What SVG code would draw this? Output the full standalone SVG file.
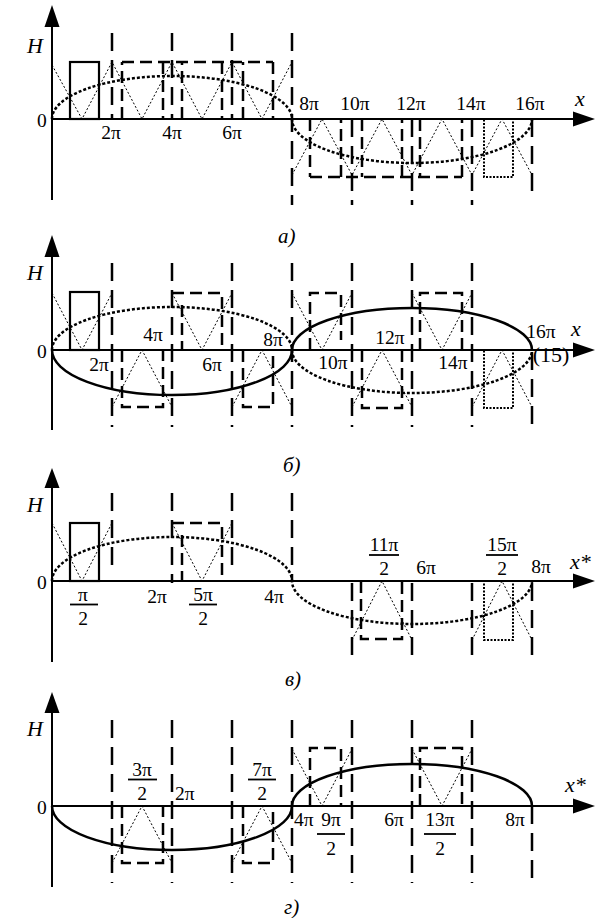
<svg xmlns="http://www.w3.org/2000/svg" width="600" height="918" viewBox="0 0 600 918">
<style>
.ax{stroke:#000;stroke-width:2;fill:none}
.ah{fill:#000}
.ld{stroke:#000;stroke-width:2.5;stroke-dasharray:18 9;fill:none}
.rd{stroke:#000;stroke-width:2.5;stroke-dasharray:12 6;fill:none}
.sr{stroke:#000;stroke-width:2.2;fill:none}
.sc{stroke:#000;stroke-width:2.5;fill:none}
.tri{stroke:#000;stroke-width:1;stroke-dasharray:2 2;fill:none}
.dc{stroke:#000;stroke-width:2.5;stroke-dasharray:3 2;fill:none}
.dr{stroke:#000;stroke-width:2;stroke-dasharray:2 1.5;fill:none}
.fl{stroke:#000;stroke-width:1.8}
text{font-family:"Liberation Serif","DejaVu Serif",serif;font-size:19.5px;fill:#000}
.m{text-anchor:middle}
.it{font-style:italic;font-size:22px}
.lb{font-style:italic;font-size:21px}
</style>
<rect width="600" height="918" fill="#fff"/>

<g id="panel-a">
  <path class="ax" d="M52 27V200M52 119H575"/>
  <polygon class="ah" points="52,5 44.5,27 59.5,27"/>
  <polygon class="ah" points="595,119 573,111.5 573,126.5"/>
  <path class="ld" d="M112 33V119M172 33V119M232 33V119M292 33V205M352 119V205M412 119V205M472 119V205M532 119V195"/>
  <rect class="sr" x="70" y="62" width="29" height="57"/>
  <path class="rd" d="M122 62H273M122 119V62M163 62V119M182 119V62M222 62V119M243 119V62M273 62V119"/>
  <path class="rd" d="M310 177H462M310 119V177M341 177V119M362 119V177M402 177V119M420 119V177M462 177V119"/>
  <rect class="dr" x="484" y="119" width="29" height="58"/>
  <polyline class="tri" points="52,65 82,119 112,62 142,119 172,62 202,119 232,62 262,119 292,62"/>
  <polyline class="tri" points="292,175 322,119 352,175 382,119 412,175 442,119 472,175 502,119 532,175"/>
  <path class="dc" d="M52 119A120 43 0 0 1 292 119A120 44 0 0 0 532 119"/>
  <text class="it" x="27" y="53">H</text>
  <text x="37" y="127">0</text>
  <text class="m" x="111" y="139">2π</text>
  <text class="m" x="172" y="139">4π</text>
  <text class="m" x="232" y="139">6π</text>
  <text class="m" x="309" y="110">8π</text>
  <text class="m" x="355" y="110">10π</text>
  <text class="m" x="411" y="110">12π</text>
  <text class="m" x="471" y="110">14π</text>
  <text class="m" x="530" y="110">16π</text>
  <text class="it" x="575" y="106">x</text>
  <text class="lb" x="278" y="243">а)</text>
</g>

<g id="panel-b">
  <path class="ax" d="M52 257V430M52 350H575"/>
  <polygon class="ah" points="52,235 44.5,257 59.5,257"/>
  <polygon class="ah" points="595,350 573,342.5 573,357.5"/>
  <path class="ld" d="M112 263V427M172 263V427M232 263V427M292 263V427M352 263V427M412 263V427M472 263V427M532 352V427"/>
  <rect class="sr" x="70" y="292" width="29" height="58"/>
  <path class="rd" d="M172 293H222V350M182 305V350M310 350V293H341V340M420 350V293H462V350"/>
  <path class="rd" d="M122 350V407H163V350M243 350V407H273V350M362 350V408H402V350"/>
  <rect class="dr" x="484" y="350" width="29" height="58"/>
  <polyline class="tri" points="52,293 82,350 112,293"/>
  <polyline class="tri" points="112,407 142,350 172,407"/>
  <polyline class="tri" points="172,293 202,350 232,293"/>
  <polyline class="tri" points="232,407 262,350 292,407"/>
  <polyline class="tri" points="292,293 322,350 352,293"/>
  <polyline class="tri" points="352,407 382,350 412,407"/>
  <polyline class="tri" points="412,293 442,350 472,293"/>
  <polyline class="tri" points="472,407 502,350 532,407"/>
  <path class="dc" d="M52 350A120 43 0 0 1 292 350M292 350A120 43 0 0 0 532 350"/>
  <path class="sc" d="M52 350A120 45 0 0 0 292 350M292 350A120 42 0 0 1 532 350"/>
  <text class="it" x="27" y="280">H</text>
  <text x="37" y="358">0</text>
  <text class="m" x="99" y="371">2π</text>
  <text class="m" x="153" y="341">4π</text>
  <text class="m" x="212" y="371">6π</text>
  <text class="m" x="273" y="346">8π</text>
  <text class="m" x="333" y="369">10π</text>
  <text class="m" x="390" y="344">12π</text>
  <text class="m" x="453" y="369">14π</text>
  <text class="m" x="541" y="338">16π</text>
  <text class="m" x="551" y="362" style="font-size:22px">(15)</text>
  <text class="it" x="571" y="336">x</text>
  <text class="lb" x="283" y="472">б)</text>
</g>

<g id="panel-c">
  <path class="ax" d="M52 488V662M52 581H575"/>
  <polygon class="ah" points="52,468 44.5,488 59.5,488"/>
  <polygon class="ah" points="595,581 573,573.5 573,588.5"/>
  <path class="ld" d="M112 493V570M172 493V583M232 493V570M292 493V581M352 583V660M412 583V660M472 583V660M532 583V660"/>
  <rect class="sr" x="70" y="523" width="29" height="58"/>
  <path class="rd" d="M172 523H222V581M182 535V581M361 581V639H402V581"/>
  <rect class="dr" x="484" y="581" width="29" height="59"/>
  <polyline class="tri" points="52,523 82,581 112,523"/>
  <polyline class="tri" points="172,523 202,581 232,523"/>
  <polyline class="tri" points="352,640 382,581 412,640"/>
  <polyline class="tri" points="472,640 502,581 532,640"/>
  <path class="dc" d="M52 581A120 44 0 0 1 292 581A120 43 0 0 0 532 581"/>
  <text class="it" x="27" y="512">H</text>
  <text x="37" y="589">0</text>
  <text class="m" x="83" y="601">π</text>
  <line class="fl" x1="70" y1="604.5" x2="98" y2="604.5"/>
  <text class="m" x="83" y="625">2</text>
  <text class="m" x="157" y="603">2π</text>
  <text class="m" x="203" y="601">5π</text>
  <line class="fl" x1="189" y1="604.5" x2="217" y2="604.5"/>
  <text class="m" x="203" y="625">2</text>
  <text class="m" x="274" y="603">4π</text>
  <text class="m" x="384" y="551">11π</text>
  <line class="fl" x1="369" y1="555" x2="399" y2="555"/>
  <text class="m" x="384" y="575">2</text>
  <text class="m" x="426" y="574">6π</text>
  <text class="m" x="502" y="551">15π</text>
  <line class="fl" x1="486" y1="555" x2="518" y2="555"/>
  <text class="m" x="502" y="575">2</text>
  <text class="m" x="541" y="573">8π</text>
  <text class="it" x="570" y="569">x*</text>
  <text class="lb" x="285" y="686">в)</text>
</g>

<g id="panel-d">
  <path class="ax" d="M52 713V887M52 806H575"/>
  <polygon class="ah" points="52,692 44.5,713 59.5,713"/>
  <polygon class="ah" points="595,806 573,798.5 573,813.5"/>
  <path class="ld" d="M112 720V883M172 720V883M232 720V883M292 720V883M352 720V883M412 720V883M472 720V883M532 806V883"/>
  <path class="sc" d="M52 806A120 44 0 0 0 292 806M292 806A120 42 0 0 1 532 806"/>
  <path class="rd" d="M122 806V863H163V806M243 806V863H273V806M310 806V748H341V806M420 806V748H462V806"/>
  <polyline class="tri" points="112,863 142,806 172,863"/>
  <polyline class="tri" points="232,863 262,806 292,863"/>
  <polyline class="tri" points="292,749 322,806 352,749"/>
  <polyline class="tri" points="412,749 442,806 472,749"/>
  <text class="it" x="27" y="736">H</text>
  <text x="37" y="814">0</text>
  <text class="m" x="142" y="776">3π</text>
  <line class="fl" x1="128" y1="779.5" x2="157" y2="779.5"/>
  <text class="m" x="142" y="800">2</text>
  <text x="175" y="800">2π</text>
  <text class="m" x="262" y="776">7π</text>
  <line class="fl" x1="248" y1="779.5" x2="276" y2="779.5"/>
  <text class="m" x="262" y="800">2</text>
  <text x="294" y="826">4π</text>
  <text class="m" x="331" y="826">9π</text>
  <line class="fl" x1="317" y1="834" x2="345" y2="834"/>
  <text class="m" x="331" y="855">2</text>
  <text class="m" x="394" y="826">6π</text>
  <text class="m" x="440" y="826">13π</text>
  <line class="fl" x1="424" y1="834" x2="456" y2="834"/>
  <text class="m" x="440" y="855">2</text>
  <text class="m" x="515" y="826">8π</text>
  <text class="it" x="565" y="792">x*</text>
  <text class="lb" x="284" y="914">г)</text>
</g>
</svg>
